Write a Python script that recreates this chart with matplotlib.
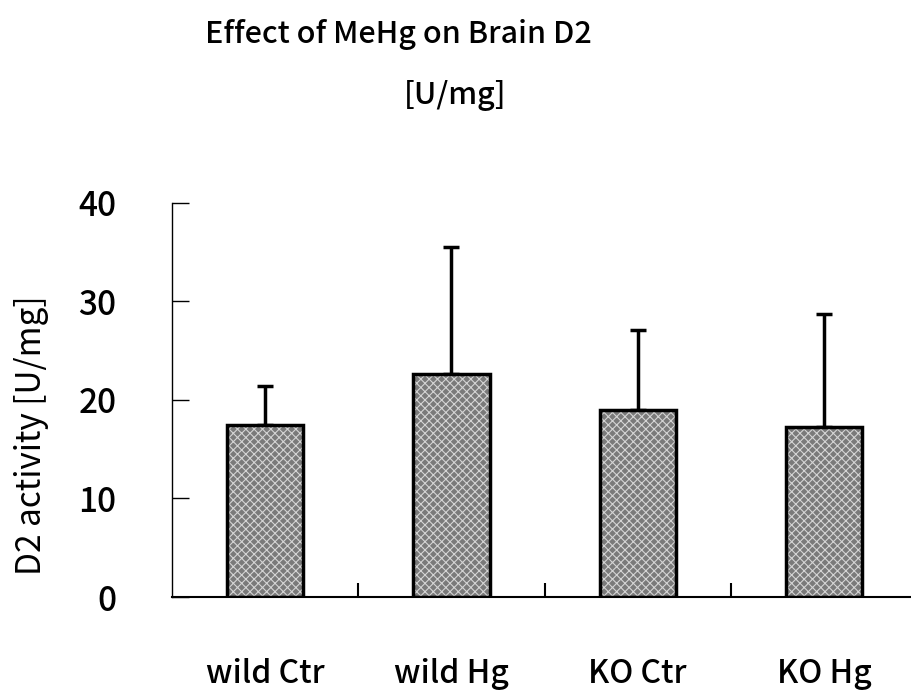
import numpy as np
import matplotlib.pyplot as plt

plt.rcParams['font.family'] = ['Noto Sans CJK JP', 'DejaVu Sans']
plt.rcParams['font.weight'] = 'medium'

groups = ['wild Ctr', 'wild Hg', 'KO Ctr', 'KO Hg']
d2_mean = [17.5, 22.6, 19.0, 17.3]
d2_sd = [3.9, 12.9, 8.1, 11.4]
y_ticks = [0, 10, 20, 30, 40]

fig = plt.figure(figsize=(9.12, 6.95), dpi=100)
ax = fig.add_axes([0.1886, 0.141, 0.817, 0.567])

x = np.arange(len(groups))

# grey stipple fill, then the black outline on top
ax.bar(x, d2_mean, width=0.41, color='#7a7a7a', linewidth=0, zorder=2)
plt.rcParams['hatch.linewidth'] = 0.8
ax.bar(x, d2_mean, width=0.41, facecolor='none', edgecolor='#d4d4d4',
       hatch='xxxx', linewidth=0, zorder=3)
ax.bar(x, d2_mean, width=0.41, facecolor='none', edgecolor='black',
       linewidth=2.5, zorder=4)
ax.errorbar(x, d2_mean, yerr=[np.zeros(len(d2_sd)), d2_sd], fmt='none',
            ecolor='black', elinewidth=2.5, capsize=6, capthick=2.5, zorder=1)

ax.set_xlim(-0.5, 3.5)
ax.set_ylim(0, 40)
ax.set_yticks(y_ticks)
ax.set_xticks(x)
ax.set_xticklabels(groups, fontsize=23)
ax.set_xticks(x[:-1] + 0.5, minor=True)
ax.tick_params(axis='x', which='major', length=0, pad=44)
ax.tick_params(axis='x', which='minor', direction='in', length=10, width=1.5)
ax.tick_params(axis='y', direction='in', length=12, width=1, labelsize=24, pad=40)

for s in ['top', 'right']:
    ax.spines[s].set_visible(False)
ax.spines['left'].set_linewidth(1)
ax.spines['bottom'].set_linewidth(1.5)

ax.set_ylabel('D2 activity [U/mg]', fontsize=24)
ax.yaxis.set_label_coords(-0.165, 0.41)

fig.text(0.437, 0.95, 'Effect of MeHg on Brain D2', fontsize=22,
         ha='center', va='center')
fig.text(0.499, 0.863, '[U/mg]', fontsize=22, ha='center', va='center')

fig.savefig('out.png', dpi=100)
